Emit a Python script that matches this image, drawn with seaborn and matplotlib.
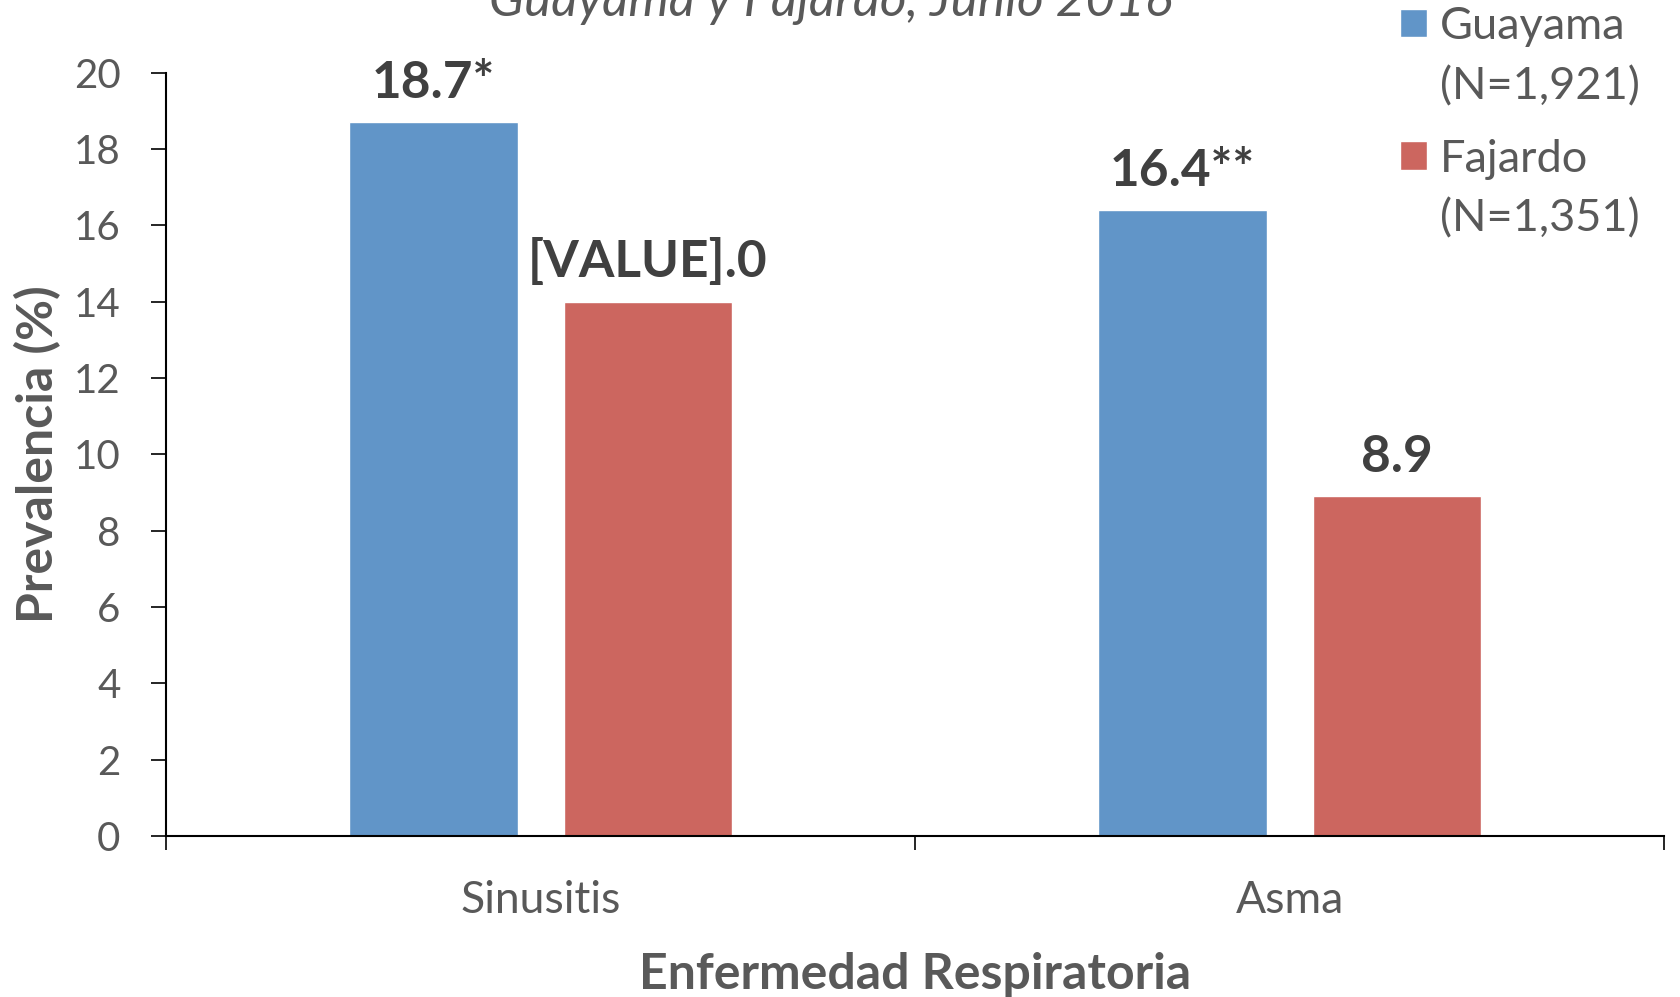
import pandas as pd
import seaborn as sns
from matplotlib import pyplot as plt
from matplotlib.patches import Patch

# Datos del gráfico
enfermedades = ['Sinusitis', 'Asma']
municipios = ['Guayama', 'Fajardo']
muestras = ['(N=1,921)', '(N=1,351)']
prev_guayama = [18.7, 16.4]
prev_fajardo = [14.0, 8.9]
etiquetas_guayama = ['18.7*', '16.4**']
etiquetas_fajardo = ['[VALUE].0', '8.9']
colores = ['#6195c8', '#cc665f']

df = pd.DataFrame({
    'Enfermedad': enfermedades * 2,
    'Municipio': [municipios[0]] * 2 + [municipios[1]] * 2,
    'Prevalencia': prev_guayama + prev_fajardo,
})

sns.set_theme(style='white')
plt.rcParams['font.family'] = ['Lato', 'DejaVu Sans']
gris = '#595959'

fig = plt.figure(figsize=(16.81, 9.97), dpi=100)
ax = fig.add_axes([0.099, 0.1615, 0.891, 0.7655])

sns.barplot(data=df, x='Enfermedad', y='Prevalencia', hue='Municipio',
            hue_order=municipios, order=enfermedades, palette=colores,
            width=0.572, gap=0.213, legend=False, ax=ax, saturation=1)

# Etiquetas de valores sobre las barras
for cont, etiquetas in zip(ax.containers, [etiquetas_guayama, etiquetas_fajardo]):
    ax.bar_label(cont, labels=etiquetas, padding=11, fontsize=37,
                 fontweight='bold', color='#404040')

ax.set_xlim(-0.5, len(enfermedades) - 0.5)
ax.set_ylim(0, 20)
ax.set_yticks(range(0, 21, 2))

# Marcas del eje x entre categorías
ax.set_xticks([i - 0.5 for i in range(len(enfermedades) + 1)], minor=True)
ax.tick_params(axis='x', which='major', length=0, pad=32, labelsize=32, labelcolor=gris)
ax.tick_params(axis='x', which='minor', length=10, width=1.2, color='black', direction='out', bottom=True)
ax.tick_params(axis='y', length=11, width=1.2, color='black', direction='out', left=True,
               pad=22, labelsize=29, labelcolor=gris)

for lado in ['top', 'right']:
    ax.spines[lado].set_visible(False)
for lado in ['left', 'bottom']:
    ax.spines[lado].set_color('black')
    ax.spines[lado].set_linewidth(1.5)

ax.set_xlabel('Enfermedad Respiratoria', fontsize=36, fontweight='bold', color=gris, labelpad=22)
ax.set_ylabel('Prevalencia (%)', fontsize=36, fontweight='bold', color=gris, labelpad=9)

# Título (cortado en la parte superior)
fig.text(0.494, 1 - 16 / 997, 'Guayama y Fajardo, Junio 2016', ha='center', va='baseline',
         fontsize=37, style='italic', color=gris)

# Leyenda: una por municipio para alinear el cuadro con la primera línea
tops = [0.994, 0.861]
for cont, nombre, n, top in zip(ax.containers, municipios, muestras, tops):
    leg = fig.legend([cont.patches[0], Patch(visible=False)], [nombre, n],
                     loc='upper left', bbox_to_anchor=(0.833, top),
                     frameon=False, fontsize=32.5, labelcolor=gris, handlelength=0.6,
                     handleheight=0.6, handletextpad=0.27, labelspacing=0.42,
                     borderpad=0, borderaxespad=0)

fig.savefig('out.png', dpi=100)
